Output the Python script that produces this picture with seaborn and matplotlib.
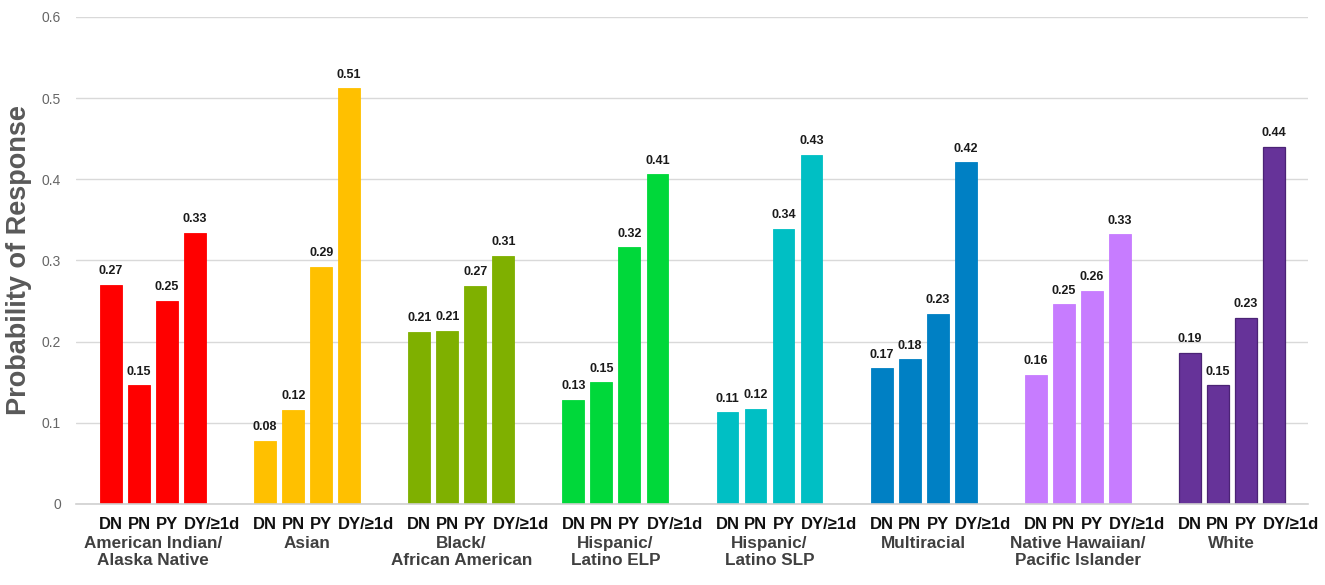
import pandas as pd
import seaborn as sns
import matplotlib
import matplotlib.pyplot as plt
import matplotlib.transforms as mtransforms

matplotlib.use('Agg')
sns.set_style("white")
plt.rcParams['font.family'] = ['Liberation Sans', 'DejaVu Sans']

groups = ["American Indian/\nAlaska Native", "Asian", "Black/\nAfrican American",
          "Hispanic/\nLatino ELP", "Hispanic/\nLatino SLP", "Multiracial",
          "Native Hawaiian/\nPacific Islander", "White"]
responses = ["DN", "PN", "PY", "DY/\u22651d"]
colors = ["#FF0000", "#FFC000", "#7FB000", "#00D83A", "#00BFC4", "#0080C4", "#C77CFF", "#663399"]

american_indian = [0.270, 0.146, 0.250, 0.334]
asian = [0.078, 0.116, 0.292, 0.512]
black = [0.212, 0.213, 0.269, 0.306]
hispanic_elp = [0.128, 0.150, 0.316, 0.406]
hispanic_slp = [0.113, 0.117, 0.339, 0.430]
multiracial = [0.167, 0.178, 0.234, 0.421]
native_hawaiian = [0.159, 0.246, 0.263, 0.332]
white = [0.186, 0.146, 0.229, 0.440]
values = [american_indian, asian, black, hispanic_elp, hispanic_slp,
          multiracial, native_hawaiian, white]

group_step = 5.5
bar_width = 0.78

rows = []
for gi, (g, vals) in enumerate(zip(groups, values)):
    for ri, (r, v) in enumerate(zip(responses, vals)):
        rows.append({"group": g, "response": r, "value": v, "pos": gi * group_step + ri})
df = pd.DataFrame(rows)

fig = plt.figure(figsize=(13.25, 5.85), dpi=100)
ax = fig.add_axes([0.0574, 0.1385, 0.9298, 0.8325])

sns.barplot(data=df, x="pos", y="value", hue="group", palette=colors, native_scale=True,
            dodge=False, width=bar_width, legend=False, ax=ax, saturation=1)

for p in ax.patches:
    p.set_edgecolor(p.get_facecolor())
    p.set_linewidth(0.6)
for p, g in zip(sorted(ax.patches, key=lambda b: b.get_x()), df["group"]):
    if g == "White":
        p.set_edgecolor("#4B2375")
        p.set_linewidth(0.9)

for _, row in df.iterrows():
    ax.annotate(f"{row['value']:.2f}", (row["pos"], row["value"]), xytext=(0, 5.5),
                textcoords="offset points", ha="center", va="bottom",
                fontsize=9, fontweight="bold", color="#1a1a1a")

ax.set_ylim(0, 0.6)
ax.set_xlim(-1.25, 42.72)
ax.set_yticks([0, 0.1, 0.2, 0.3, 0.4, 0.5, 0.6])
ax.set_yticklabels(["0", "0.1", "0.2", "0.3", "0.4", "0.5", "0.6"])
ax.tick_params(axis="y", length=0, labelsize=10, labelcolor="#666666", pad=11)
ax.yaxis.grid(True, color="#d9d9d9", linewidth=1)
ax.set_axisbelow(True)

ax.set_xticks([])
for side in ["left", "right", "top"]:
    ax.spines[side].set_visible(False)
ax.spines["bottom"].set_color("#d0d0d0")
ax.spines["bottom"].set_linewidth(1.2)

trans = mtransforms.blended_transform_factory(ax.transData, ax.transAxes)
# response labels under each bar; the last one starts at the bar's left edge
for _, row in df.iterrows():
    if row["response"].startswith("DY"):
        ax.text(row["pos"] - bar_width / 2, -0.042, row["response"], transform=trans,
                ha="left", va="center", fontsize=12, fontweight="bold", color="#111111")
    else:
        ax.text(row["pos"], -0.042, row["response"], transform=trans,
                ha="center", va="center", fontsize=12, fontweight="bold", color="#111111")

for gi, g in enumerate(groups):
    ax.text(gi * group_step + 1.5, -0.066, g, transform=trans, ha="center", va="top",
            fontsize=12.3, fontweight="bold", color="#404040", linespacing=1.18)

ax.set_xlabel("")
ax.set_ylabel("Probability of Response", fontsize=19.5, fontweight="bold", color="#595959")
ax.yaxis.set_label_coords(-0.036, 0.5)

fig.savefig("out.png", dpi=100)
